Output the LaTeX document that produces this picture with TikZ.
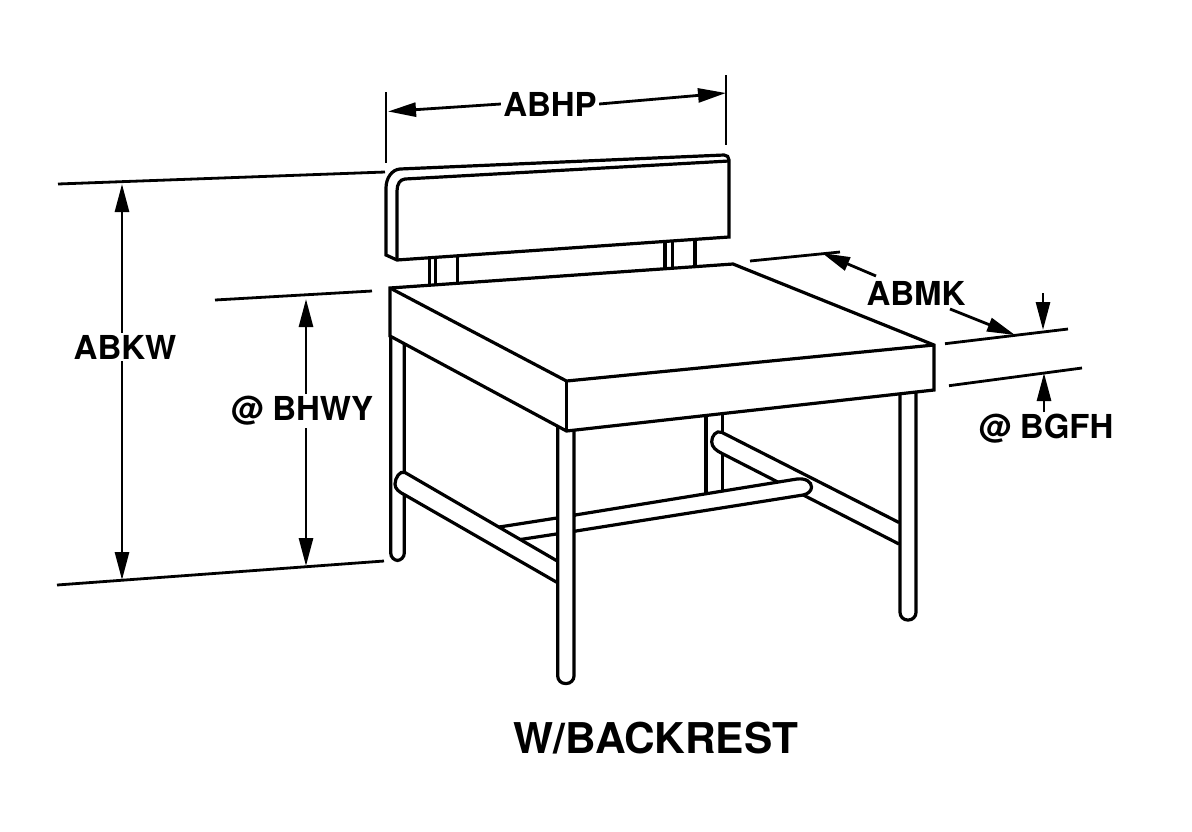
\documentclass[tikz,border=0pt]{standalone}
\usepackage{fontspec}
\setmainfont{TeX Gyre Heros}
\usetikzlibrary{arrows.meta}
\tikzset{
  part/.style={line width=1.6pt,fill=white,line join=miter},
  tube/.style={part,rounded corners=3.8pt},
  thin part/.style={line width=1.6pt},
  dimline/.style={line width=1.4pt},
  dimarrow/.style={line width=1.4pt,-{Triangle[length=14pt,width=7pt]}},
  dimlabel/.style={font=\bfseries\fontsize{16.5}{18}\selectfont,inner sep=1pt}
}
\begin{document}
\begin{tikzpicture}[x=0.5pt,y=-0.5pt,line cap=butt]
\useasboundingbox (0,0) rectangle (1192,831);
\path
(390,288) coordinate (SL)
(733,264) coordinate (SB)
(934,345) coordinate (SR)
(566.5,381) coordinate (SF)
(390,336) coordinate (SLd)
(934,390) coordinate (SRd)
(566.5,431) coordinate (SFd)
(388,111.5) coordinate (HP1)
(726,93) coordinate (HP2)
(122,184) coordinate (KW1)
(122,580) coordinate (KW2)
(306,299) coordinate (WY1)
(306,566) coordinate (WY2)
(822,253) coordinate (MK1)
(876,276) coordinate (MK1s)
(1015,335) coordinate (MK2)
(950,309) coordinate (MK2s)
(1043,293) coordinate (FH1s)
(1043,330) coordinate (FH1)
(1044,373) coordinate (FH2)
;
\foreach \x in {429.5,435.5,457.5}
\draw[thin part] (\x,250)--(\x,290);
\foreach \x in {665,672.5,695}
\draw[thin part] (\x,230)--(\x,272);
\draw[part] (400,169)--(724,155) .. controls (727,155) and (729,157) .. (729,160)--(729,237)--(397,260)--(386,255)--(386,188)
 .. controls (386,178) and (392,169.5) .. (400,169)--cycle;
\draw[thin part] (397,260)--(397,191) .. controls (397,184) and (400,179.5) .. (405,179)--(729,161);
\draw[thin part] (706,410)--(706,497);
\draw[thin part] (722.3,410)--(722.3,495);
\draw[part] (899,522.5)--(721.7,432.3) .. controls (716,430) and (711.7,436) .. (711.7,441.7)
 .. controls (711.7,447) and (716,450.5) .. (721.7,453.3)--(899,544);
\draw[tube] (900,385)--(900,620)--(916,620)--(916,385);
\draw[part] (575,515)--(797,479) .. controls (806,478) and (811.5,482) .. (811.5,487)
 .. controls (811.5,491) and (808,494) .. (803,495)--(576,531);
\draw[part] (576,515)--(496,527.5);
\draw[part] (576,531)--(517,540);
\draw[tube] (390.7,330)--(390.7,560.5)--(404.3,560.5)--(404.3,330);
\draw[part] (565,565.5)--(405,472.5) .. controls (400,470) and (395,478) .. (395,484)
 .. controls (395,489) and (399,492) .. (405,495)--(565,587);
\draw[tube] (557.7,420)--(557.7,683.5)--(574,683.5)--(574,420);
\draw[part] (SL)--(SB)--(SR)--(SRd)--(SFd)--(SLd)--cycle;
\draw[thin part] (SL)--(SF)--(SR);
\draw[thin part] (SF)--(SFd);
\draw[dimline] (386,92)--(386,163);
\draw[dimline] (726,75)--(726,145);
\draw[dimline] (58,184)--(385,172);
\draw[dimline] (57,585)--(384,561);
\draw[dimline] (215,300)--(372,291);
\draw[dimline] (750,261)--(840,252);
\draw[dimline] (945,343.7)--(1068,329);
\draw[dimline] (949,385.7)--(1082,368);
\node[dimlabel] (abhp) at (550,104) {ABHP};
\node[dimlabel] (abkw) at (125,347) {ABKW};
\node[dimlabel] (bhwy) at (302,411) {@ BHWY};
\node[dimlabel] (abmk) at (916,293) {ABMK};
\node[dimlabel] (bgfh) at (1046,429) {@ BGFH};
\node[font=\bfseries\fontsize{21.2}{24}\selectfont,inner sep=0pt] (title) at (656,738) {W/BACKREST};
\draw[dimarrow] (abhp.west)--(HP1);
\draw[dimarrow] (abhp.east)--(HP2);
\draw[dimarrow] (abkw.north-|KW1)--(KW1);
\draw[dimarrow] (abkw.south-|KW1)--(KW2);
\draw[dimarrow] (bhwy.north-|WY1)--(WY1);
\draw[dimarrow] (bhwy.south-|WY1)--(WY2);
\draw[dimarrow] (MK1s)--(MK1);
\draw[dimarrow] (MK2s)--(MK2);
\draw[dimarrow] (FH1s)--(FH1);
\draw[dimarrow] (bgfh.north-|FH2)--(FH2);
\end{tikzpicture}
\end{document}
